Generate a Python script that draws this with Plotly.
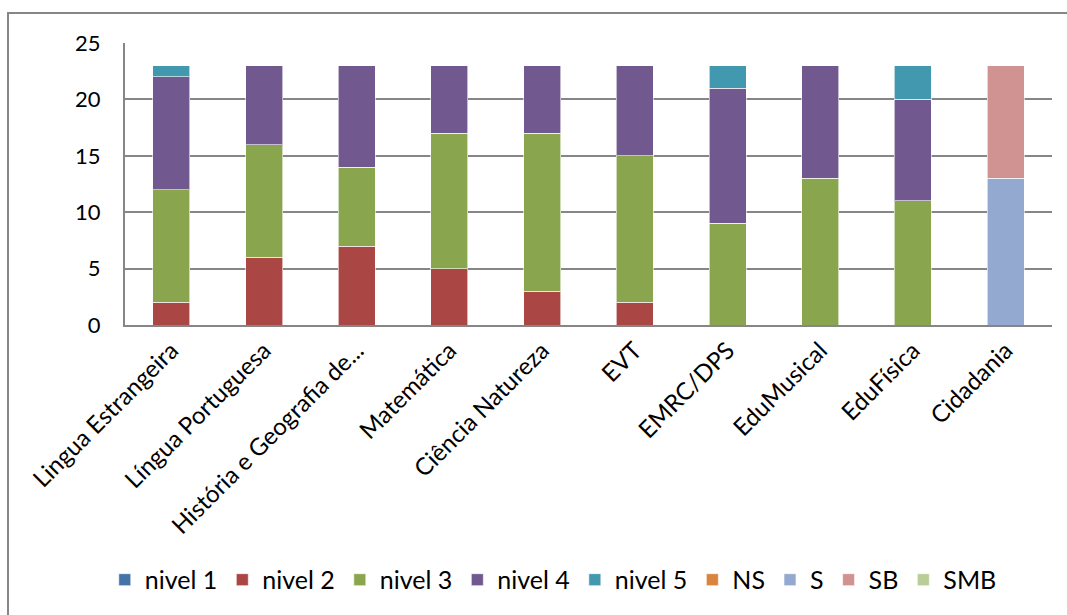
import plotly.graph_objects as go

categories = ["Lingua Estrangeira", "Língua Portuguesa", "História e Geografia de...",
              "Matemática", "Ciência Natureza", "EVT", "EMRC/DPS", "EduMusical",
              "EduFísica", "Cidadania"]

nivel1 = [0, 0, 0, 0, 0, 0, 0, 0, 0, 0]
nivel2 = [2, 6, 7, 5, 3, 2, 0, 0, 0, 0]
nivel3 = [10, 10, 7, 12, 14, 13, 9, 13, 11, 0]
nivel4 = [10, 7, 9, 6, 6, 8, 12, 10, 9, 0]
nivel5 = [1, 0, 0, 0, 0, 0, 2, 0, 3, 0]
ns = [0, 0, 0, 0, 0, 0, 0, 0, 0, 0]
s = [0, 0, 0, 0, 0, 0, 0, 0, 0, 13]
sb = [0, 0, 0, 0, 0, 0, 0, 0, 0, 10]
smb = [0, 0, 0, 0, 0, 0, 0, 0, 0, 0]

series = [
    ("nivel 1", nivel1, "#4572A7"),
    ("nivel 2", nivel2, "#AA4643"),
    ("nivel 3", nivel3, "#89A54E"),
    ("nivel 4", nivel4, "#71588F"),
    ("nivel 5", nivel5, "#4198AF"),
    ("NS", ns, "#DB843D"),
    ("S", s, "#93A9CF"),
    ("SB", sb, "#D19392"),
    ("SMB", smb, "#B9CD96"),
]

FONT = "Lato, 'Liberation Sans', sans-serif"

fig = go.Figure()
for name, vals, color in series:
    fig.add_trace(go.Bar(
        x=categories, y=vals, name=name,
        marker=dict(color=color, line=dict(color="rgba(255,255,255,0.6)", width=1)),
    ))

fig.update_layout(
    barmode="stack",
    bargap=0.6,
    width=1067, height=615,
    margin=dict(l=125, r=15, t=43, b=290),
    plot_bgcolor="white",
    paper_bgcolor="white",
    font=dict(family=FONT, size=22, color="black"),
    showlegend=True,
    legend=dict(
        orientation="h", x=0.462, xanchor="center", y=-0.904, yanchor="middle",
        font=dict(size=25, family=FONT), itemwidth=30, traceorder="normal",
        itemclick=False,
    ),
    xaxis=dict(
        tickangle=-45, showline=True, linecolor="#868686", linewidth=2,
        ticks="", tickfont=dict(size=24, family=FONT),
    ),
    yaxis=dict(
        range=[0, 25], dtick=5, showgrid=True, gridcolor="#868686", gridwidth=2,
        showline=True, linecolor="#868686", linewidth=2, zeroline=False,
        ticks="", tickfont=dict(size=22, family=FONT), ticklabelstandoff=18,
    ),
    shapes=[dict(
        type="rect", xref="paper", yref="paper",
        x0=-0.1262, x1=1.05, y0=-1.1, y1=1.1064,
        line=dict(color="#868686", width=2), fillcolor="rgba(0,0,0,0)",
        layer="below",
    )],
)

fig.write_html("out.html", config={"displayModeBar": False},
               post_script="document.body.style.margin='0';document.body.style.overflow='hidden';")
